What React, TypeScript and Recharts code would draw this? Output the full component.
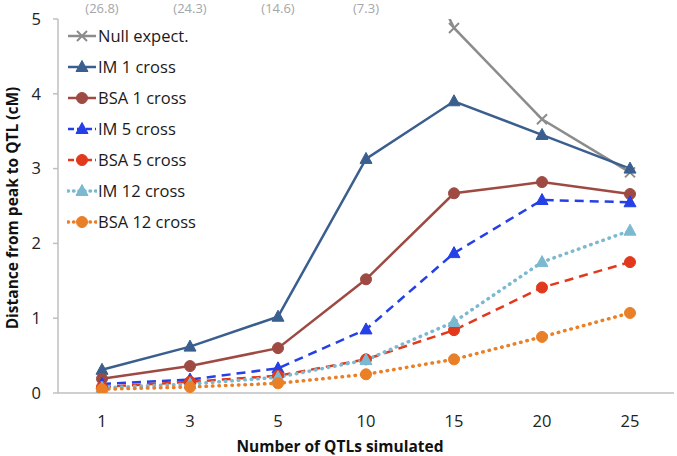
import { LineChart, Line, XAxis, YAxis, Legend, LabelList } from 'recharts'

const qtls = ['1', '3', '5', '10', '15', '20', '25']
const nullExpect = [26.8, 24.3, 14.6, 7.3, 4.88, 3.66, 2.95]
const im1 = [0.31, 0.62, 1.02, 3.13, 3.9, 3.45, 3.0]
const bsa1 = [0.19, 0.36, 0.6, 1.52, 2.67, 2.82, 2.66]
const im5 = [0.12, 0.18, 0.33, 0.85, 1.87, 2.58, 2.55]
const bsa5 = [0.08, 0.15, 0.23, 0.45, 0.84, 1.41, 1.75]
const im12 = [0.07, 0.12, 0.21, 0.44, 0.95, 1.75, 2.17]
const bsa12 = [0.05, 0.08, 0.13, 0.25, 0.45, 0.75, 1.07]
const yTicks = [0, 1, 2, 3, 4, 5]

const data = qtls.map((q, i) => ({
  q,
  nullExpect: nullExpect[i],
  im1: im1[i],
  bsa1: bsa1[i],
  im5: im5[i],
  bsa5: bsa5[i],
  im12: im12[i],
  bsa12: bsa12[i],
}))

type MarkerKind = 'cross' | 'triangle' | 'circle'

interface SeriesDef {
  key: string
  name: string
  color: string
  dash?: string
  dotted?: boolean
  marker: MarkerKind
}

const series: SeriesDef[] = [
  { key: 'nullExpect', name: 'Null expect.', color: '#8c8c8c', marker: 'cross' },
  { key: 'im1', name: 'IM 1 cross', color: '#3a5f8f', marker: 'triangle' },
  { key: 'bsa1', name: 'BSA 1 cross', color: '#9e4a43', marker: 'circle' },
  { key: 'im5', name: 'IM 5 cross', color: '#2440e6', dash: '9 6', marker: 'triangle' },
  { key: 'bsa5', name: 'BSA 5 cross', color: '#e2391c', dash: '9 6', marker: 'circle' },
  { key: 'im12', name: 'IM 12 cross', color: '#7bb9d1', dotted: true, marker: 'triangle' },
  { key: 'bsa12', name: 'BSA 12 cross', color: '#e98027', dotted: true, marker: 'circle' },
]

const font = '"Open Sans", sans-serif'

function Marker({ kind, cx, cy, color }: { kind: MarkerKind; cx: number; cy: number; color: string }) {
  if (kind === 'cross') {
    const s = 5
    return (
      <path
        d={`M${cx - s},${cy - s}L${cx + s},${cy + s}M${cx - s},${cy + s}L${cx + s},${cy - s}`}
        stroke={color}
        strokeWidth={2}
        fill="none"
      />
    )
  }
  if (kind === 'triangle') {
    return (
      <path
        d={`M${cx},${cy - 6.5}L${cx + 6},${cy + 4.5}L${cx - 6},${cy + 4.5}Z`}
        fill={color}
        stroke={color}
        strokeWidth={1}
      />
    )
  }
  return <circle cx={cx} cy={cy} r={5.5} fill={color} stroke={color} strokeWidth={1} />
}

function lineStyle(s: SeriesDef) {
  if (s.dotted) return { strokeDasharray: '0.5 6', strokeLinecap: 'round' as const, strokeWidth: 3.5 }
  if (s.dash) return { strokeDasharray: s.dash, strokeWidth: 2.5 }
  return { strokeWidth: 2.5 }
}

function LegendBox() {
  return (
    <div style={{ fontFamily: font, fontSize: 16.5, color: '#1a1a1a' }}>
      {series.map((s) => {
        const st = lineStyle(s)
        return (
          <div key={s.key} style={{ display: 'flex', alignItems: 'center', height: 31 }}>
            <svg width={30} height={20}>
              <line
                x1={1}
                x2={29}
                y1={10}
                y2={10}
                stroke={s.color}
                strokeWidth={st.strokeWidth}
                strokeDasharray={s.dotted ? '0.5 5' : s.dash ? '6 3' : undefined}
                strokeLinecap={s.dotted ? 'round' : 'butt'}
              />
              <Marker kind={s.marker} cx={15} cy={10} color={s.color} />
            </svg>
            <span style={{ marginLeft: 1 }}>{s.name}</span>
          </div>
        )
      })}
    </div>
  )
}

export default function App() {
  return (
    <div style={{ position: 'absolute', left: 0, top: 0, width: 677, height: 456, background: '#fff' }}>
      <LineChart width={677} height={456} data={data} margin={{ top: 19, right: 3, bottom: 0, left: 0 }}>
        <XAxis
          dataKey="q"
          height={63}
          padding={{ left: 44, right: 44 }}
          axisLine={{ stroke: '#bfbfbf', strokeWidth: 1.5 }}
          tickLine={false}
          tickSize={0}
          tickMargin={22}
          tick={{ fontSize: 16.5, fill: '#222', fontFamily: font }}
          label={{
            content: () => (
              <text
                x={340}
                y={452}
                textAnchor="middle"
                fontFamily={font}
                fontSize={15.5}
                fontWeight="bold"
                fill="#111"
              >
                Number of QTLs simulated
              </text>
            ),
          }}
        />
        <YAxis
          width={58}
          domain={[0, 5]}
          ticks={yTicks}
          allowDataOverflow
          axisLine={{ stroke: '#bfbfbf', strokeWidth: 1.5 }}
          tickLine={{ stroke: '#bfbfbf', strokeWidth: 1.5 }}
          tickSize={5}
          tickMargin={12}
          tick={{ fontSize: 16.5, fill: '#222', fontFamily: font }}
          label={{
            content: () => (
              <text
                transform="translate(18,208) rotate(-90)"
                textAnchor="middle"
                fontFamily={font}
                fontSize={15.5}
                fontWeight="bold"
                fill="#111"
              >
                Distance from peak to QTL (cM)
              </text>
            ),
          }}
        />
        <Legend
          layout="vertical"
          align="center"
          verticalAlign="middle"
          content={() => <LegendBox />}
          wrapperStyle={{ left: 67, top: 20, width: 170 }}
        />
        {series.map((s) => (
          <Line
            key={s.key}
            dataKey={s.key}
            name={s.name}
            stroke={s.color}
            {...lineStyle(s)}
            isAnimationActive={false}
            activeDot={false}
            dot={(p: any) => (
              <Marker key={`${s.key}-${p.index}`} kind={s.marker} cx={p.cx} cy={p.cy} color={s.color} />
            )}
          >
            {s.key === 'nullExpect' && (
              <LabelList
                dataKey="nullExpect"
                content={(p: any) =>
                  Number(p.value) > 5 ? (
                    <text
                      x={p.x}
                      y={13}
                      textAnchor="middle"
                      fontFamily={font}
                      fontSize={13}
                      fill="#a6a6a6"
                    >
                      ({p.value})
                    </text>
                  ) : null
                }
              />
            )}
          </Line>
        ))}
      </LineChart>
    </div>
  )
}
